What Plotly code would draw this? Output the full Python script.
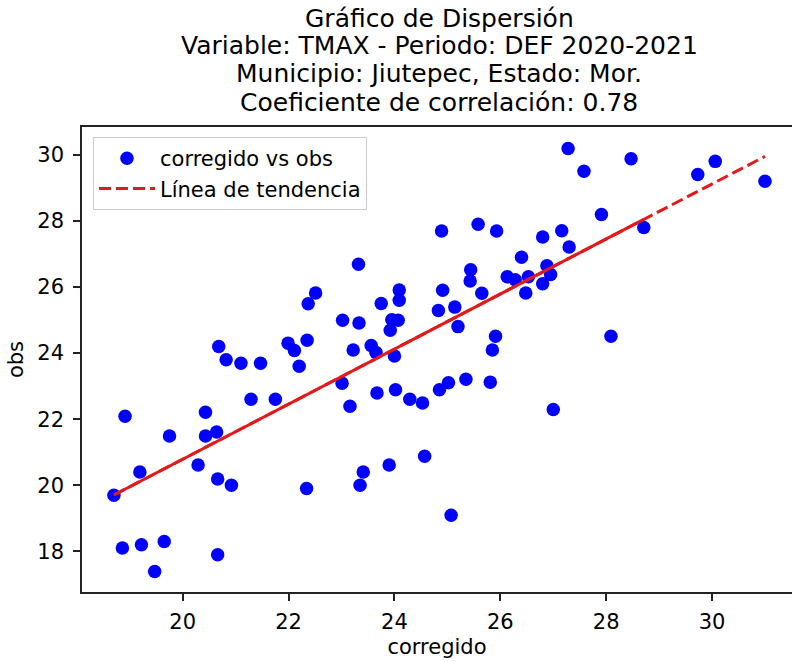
import numpy as np
import plotly.graph_objects as go

# Data
corregido = [18.70, 18.91, 19.19, 18.86, 19.22, 19.65, 19.47, 19.75, 20.29, 20.43,
             20.43, 20.64, 20.66, 20.92, 20.66, 21.29, 21.75, 22.34, 20.68, 20.82,
             21.10, 21.47, 21.99, 22.11, 22.35, 22.20, 22.37, 22.51, 23.32, 23.02,
             23.33, 23.75, 24.09, 24.09, 23.95, 24.07, 23.92, 23.22, 23.56, 23.65,
             24.00, 23.01, 23.16, 23.67, 24.02, 24.29, 24.53, 24.85, 25.02, 25.35,
             25.81, 23.41, 23.35, 23.90, 24.57, 25.07, 24.89, 25.58, 25.93, 26.80,
             27.16, 27.30, 26.40, 25.44, 25.43, 25.65, 24.91, 24.83, 25.14, 25.20,
             26.13, 26.28, 26.53, 26.48, 26.88, 26.95, 26.80, 25.91, 25.85, 27.28,
             27.58, 28.47, 29.73, 30.06, 31.00, 27.91, 28.71, 28.09, 27.00]
obs = [19.70, 22.09, 20.40, 18.10, 18.20, 18.30, 17.39, 21.49, 20.61, 22.21,
       21.49, 21.61, 20.19, 20.00, 17.90, 22.60, 22.60, 19.90, 24.20, 23.80,
       23.69, 23.69, 24.30, 24.08, 24.39, 23.60, 25.49, 25.82, 26.69, 24.99,
       24.91, 25.50, 25.91, 25.60, 25.01, 24.99, 24.69, 24.09, 24.23, 24.02,
       23.91, 23.09, 22.39, 22.79, 22.89, 22.60, 22.49, 22.89, 23.10, 23.21,
       23.12, 20.40, 20.00, 20.61, 20.88, 19.09, 27.69, 27.90, 27.69, 27.51,
       27.70, 27.21, 26.90, 26.52, 26.18, 25.81, 25.90, 25.29, 25.39, 24.80,
       26.31, 26.22, 26.31, 25.82, 26.64, 26.38, 26.10, 24.51, 24.09, 30.19,
       29.50, 29.88, 29.40, 29.80, 29.20, 28.19, 27.80, 24.51, 22.29]

x_ticks = [20, 22, 24, 26, 28, 30]
y_ticks = [18, 20, 22, 24, 26, 28, 30]

title_lines = ["Gráfico de Dispersión",
               "Variable: TMAX - Periodo: DEF 2020-2021",
               "Municipio: Jiutepec, Estado: Mor.",
               "Coeficiente de correlación: 0.78"]

x_arr = np.array(corregido)
y_arr = np.array(obs)
slope, intercept = np.polyfit(x_arr, y_arr, 1)

xs = np.sort(x_arr)
x_full = [xs[0], xs[-1]]
# the dense (visually solid) part of the trend line ends at the last point below 29
x_dense = [xs[0], xs[xs < 29].max()]

FONT = "DejaVu Sans"
RED = "#e31a1c"
AX = "#222222"

# plot-area geometry in page pixels (body margin removed by post_script)
L, T, W, H = 82, 127, 710, 465

fig = go.Figure()
fig.add_trace(go.Scatter(
    x=corregido, y=obs, mode="markers", name="corregido vs obs",
    marker=dict(color="#0000ff", size=13.5, line=dict(width=0)),
))
fig.add_trace(go.Scatter(
    x=x_dense, y=[slope * v + intercept for v in x_dense], mode="lines",
    line=dict(color=RED, width=3), showlegend=False, hoverinfo="skip",
))
fig.add_trace(go.Scatter(
    x=x_full, y=[slope * v + intercept for v in x_full], mode="lines",
    name="Línea de tendencia",
    line=dict(color=RED, width=3, dash="12px,5px"),
))

annotations = []
title_cx = 439
for i, line in enumerate(title_lines):
    cy = 18 + 28 * i
    annotations.append(dict(
        text=line, x=(title_cx - L) / W, y=1 + (T - cy) / H,
        xref="paper", yref="paper",
        xanchor="center", yanchor="middle", showarrow=False,
        font=dict(size=25, family=FONT, color="black"),
    ))

fig.update_layout(
    width=792, height=662,
    paper_bgcolor="white", plot_bgcolor="white",
    margin=dict(l=L, r=792 - L - W, t=T, b=662 - T - H, autoexpand=False),
    font=dict(family=FONT, size=21, color="black"),
    annotations=annotations,
    showlegend=True,
    legend=dict(x=(93 - L) / W, y=1 - (137 - T) / H,
                xanchor="left", yanchor="top", itemwidth=56,
                bgcolor="rgba(255,255,255,0.8)", bordercolor="#cccccc",
                borderwidth=1, font=dict(size=21, family=FONT)),
)
fig.update_xaxes(range=[18.097, 31.51], tickvals=x_ticks, ticks="outside",
                 ticklen=7, tickwidth=1.6, tickcolor=AX, showline=True,
                 linecolor=AX, linewidth=1.6, mirror=True, showgrid=False,
                 zeroline=False, automargin=False, ticklabelstandoff=3,
                 title=dict(text="corregido", standoff=6, font=dict(size=21)),
                 tickfont=dict(size=21))
fig.update_yaxes(range=[16.77, 30.84], tickvals=y_ticks, ticks="outside",
                 ticklen=7, tickwidth=1.6, tickcolor=AX, showline=True,
                 linecolor=AX, linewidth=1.6, mirror=False, showgrid=False,
                 zeroline=False, automargin=False, ticklabelstandoff=5,
                 title=dict(text="obs", standoff=8, font=dict(size=21)),
                 tickfont=dict(size=21))

fig.write_html("out.html", config={"displayModeBar": False},
               post_script="document.body.style.margin='0';document.body.style.padding='0';")
